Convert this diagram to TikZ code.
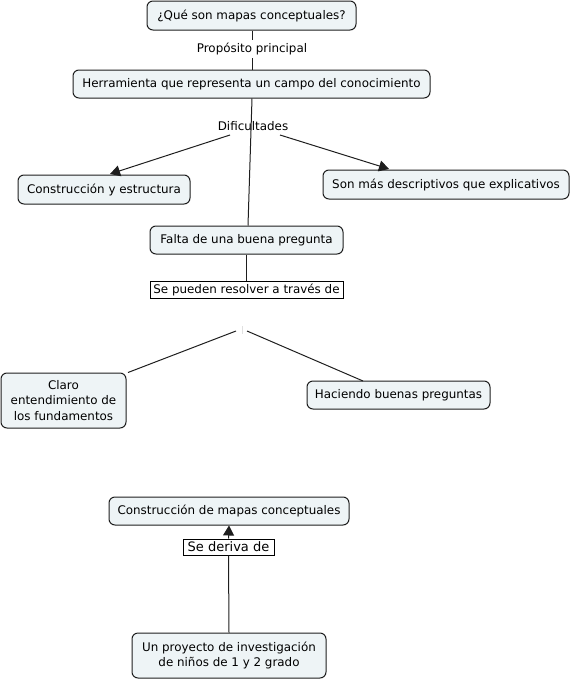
\documentclass[tikz,border=0pt]{standalone}
\usepackage{fontspec}
\setmainfont{DejaVu Sans}
\usetikzlibrary{arrows.meta}
\definecolor{cfill}{RGB}{238,244,246}
\definecolor{cline}{RGB}{30,30,30}
\tikzset{
  concept/.style={draw=cline, fill=cfill, rounded corners=6pt, line width=1pt,
    inner sep=0pt, align=center, font=\fontsize{11.9}{15.2}\selectfont},
  phrase/.style={inner sep=1pt, font=\fontsize{11.9}{14}\selectfont},
  boxphrase/.style={draw=black, fill=white, line width=1pt, inner sep=1pt, font=\fontsize{11.9}{14}\selectfont},
  conn/.style={draw=cline, line width=1pt},
  arr/.style={conn, -{Triangle[length=10pt,width=11pt]}},
}
\begin{document}
\begin{tikzpicture}[x=1pt,y=-1pt]
\useasboundingbox (0,0) rectangle (572,680);
\node[concept, minimum width=209pt, minimum height=29pt] (q) at (251.5,15.5) {¿Qué son mapas conceptuales?};
\node[phrase] (pp) at (252,49) {Propósito principal};
\node[concept, minimum width=357pt, minimum height=28pt] (h) at (251.5,84) {Herramienta que representa un campo del conocimiento};
\node[concept, minimum width=172pt, minimum height=29pt] (ce) at (104,189.5) {Construcción y estructura};
\node[concept, minimum width=246pt, minimum height=29pt] (sm) at (446,184.5) {Son más descriptivos que explicativos};
\node[concept, minimum width=193pt, minimum height=28pt] (f) at (246.5,240) {Falta de una buena pregunta};
\node[boxphrase, minimum width=193pt, minimum height=17pt] (sp) at (246.5,289.5) {Se pueden resolver a través de};
\coordinate (hid) at (242,330);
\node[concept, minimum width=125pt, minimum height=55pt] (cl) at (63.5,400.5) {Claro\\entendimiento de\\los fundamentos};
\node[concept, minimum width=183pt, minimum height=28pt] (hb) at (398.5,395) {Haciendo buenas preguntas};
\node[concept, minimum width=240pt, minimum height=28pt] (cm) at (229,511) {Construcción de mapas conceptuales};
\node[boxphrase, minimum width=91pt, minimum height=16pt, font=\fontsize{13}{14}\selectfont, inner sep=0pt] (sd) at (228.5,547) {Se deriva de};
\node[concept, minimum width=194pt, minimum height=45pt] (up) at (229,655.5) {Un proyecto de investigación\\de niños de 1 y 2 grado};
% connectors
\draw[conn] (q.south -| 252,0) -- (252,40);
\draw[conn] (252,58) -- (h.north -| 252,0);
\draw[conn] (h.south -| 252,0) -- (f.north -| 248,0);
\node[phrase] (df) at (253,126) {Dificultades};
\draw[arr] (230,135) -- (110,174);
\draw[arr] (280,135) -- (389,169);
\draw[conn] (f.south) -- (sp.north);
\draw[draw=black!12, line width=0.6pt] (hid) ++(0,-4) -- ++(0,8);
\draw[conn] (236,331) -- (cl.north east -| 128,0) ++(0,2);
\draw[conn] (247,331) -- (363,381);
\draw[arr] (sd.north) -- (cm.south);
\draw[conn] (up.north) -- (sd.south);
\end{tikzpicture}
\end{document}
